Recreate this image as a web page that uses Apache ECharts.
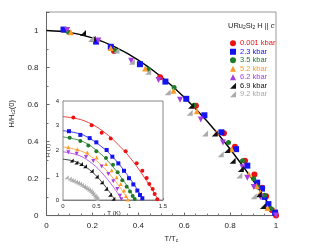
<!DOCTYPE html>
<html><head><meta charset="utf-8">
<script src="https://cdn.jsdelivr.net/npm/echarts@6/dist/echarts.min.js"></script>
<style>html,body{margin:0;padding:0;background:#fff}#c{width:321px;height:248px}</style>
</head><body><div id="c"></div>
<script>
// ---- legend / series names ----
var names = ['0.001 kbar','2.3 kbar','3.5 kbar','5.2 kbar','6.2 kbar','6.9 kbar','9.2 kbar'];
// ---- main plot: [T/Tc, H/Hc2(0)] ----
var mainRed = [[0.294,0.889],[0.495,0.747],[0.651,0.594],[0.773,0.445],[0.821,0.372],[0.865,0.297],[0.906,0.222],[0.94,0.151],[0.957,0.105],[0.982,0.03],[1.0,0.0]];
var mainBlue = [[0.074,1.005],[0.216,0.94],[0.28,0.912],[0.407,0.818],[0.518,0.724],[0.609,0.631],[0.688,0.542],[0.762,0.45],[0.826,0.359],[0.875,0.27],[0.918,0.178],[0.939,0.146],[0.95,0.101],[0.967,0.062],[0.996,0.016]];
var mainGreen = [[0.096,0.99],[0.3,0.89],[0.444,0.791],[0.556,0.692],[0.643,0.596],[0.793,0.395],[0.854,0.297],[0.903,0.199],[0.92,0.155],[0.95,0.11],[0.977,0.039]];
var mainOrange = [[0.106,0.99],[0.28,0.905],[0.43,0.795],[0.553,0.675],[0.655,0.564],[0.74,0.448],[0.807,0.359],[0.882,0.222],[0.915,0.16],[0.932,0.126],[0.963,0.041]];
var mainPurple = [[0.09,1.003],[0.226,0.946],[0.369,0.836],[0.488,0.732],[0.582,0.626],[0.672,0.519],[0.769,0.395],[0.854,0.261],[0.875,0.204],[0.903,0.155],[0.932,0.101],[1.0,0.0]];
var mainBlack = [[0.159,0.987],[0.201,0.955],[0.63,0.594],[0.733,0.443],[0.787,0.354],[0.811,0.297],[0.847,0.252],[0.925,0.116],[0.943,0.052]];
var mainGray = [[0.194,0.955],[0.305,0.892],[0.372,0.831],[0.443,0.777],[0.528,0.667],[0.624,0.555],[0.691,0.443],[0.759,0.332],[0.84,0.217],[0.903,0.105]];
var mainCurve = [[0,1],[0.1,0.99],[0.2,0.96],[0.3,0.91],[0.4,0.84],[0.5,0.75],[0.6,0.64],[0.7,0.51],[0.8,0.36],[0.9,0.19],[1,0]];
// ---- inset: [T (K), H (T)] ----
var inRed = [[0.155,3.33],[0.43,3.02],[0.58,2.72],[0.715,2.48],[0.94,1.97],[1.105,1.48],[1.19,1.18],[1.255,0.89],[1.295,0.65],[1.345,0.44],[1.375,0.24],[1.415,0.03]];
var inBlue = [[0.09,2.78],[0.26,2.63],[0.4,2.5],[0.5,2.33],[0.655,2.02],[0.74,1.75],[0.83,1.48],[0.915,1.18],[0.99,0.88],[1.055,0.63],[1.115,0.38],[1.155,0.2],[1.19,0.07]];
var inGreen = [[0.1,2.52],[0.26,2.38],[0.38,2.2],[0.5,1.97],[0.645,1.7],[0.75,1.42],[0.82,1.12],[0.89,0.8],[0.955,0.54],[1.005,0.34],[1.045,0.16],[1.075,0.04]];
var inOrange = [[0.08,2.13],[0.215,2.05],[0.365,1.92],[0.505,1.72],[0.645,1.45],[0.73,1.2],[0.805,0.92],[0.865,0.65],[0.915,0.38],[0.945,0.16],[0.97,0.02]];
var inPurple = [[0.08,1.93],[0.205,1.87],[0.345,1.74],[0.455,1.58],[0.58,1.35],[0.68,1.05],[0.755,0.76],[0.815,0.44],[0.855,0.17],[0.875,0.03]];
var inBlack = [[0.13,1.6],[0.2,1.52],[0.27,1.45],[0.33,1.36],[0.43,1.18],[0.505,0.95],[0.58,0.72],[0.645,0.45],[0.705,0.21],[0.755,0.05]];
var inGray = [[0.055,0.92],[0.1,0.87],[0.13,0.82],[0.16,0.79],[0.195,0.75],[0.225,0.71],[0.255,0.67],[0.285,0.62],[0.315,0.57],[0.34,0.52],[0.365,0.47],[0.39,0.42],[0.415,0.37],[0.435,0.31],[0.455,0.25],[0.475,0.18],[0.49,0.13],[0.505,0.08],[0.515,0.04]];
// inset fit curves
var fitRed = [[0,3.37],[0.3,3.22],[0.6,2.78],[0.9,2.04],[1.1,1.38],[1.25,0.79],[1.35,0.37],[1.43,0]];
var fitBlue = [[0,2.8],[0.3,2.63],[0.6,2.11],[0.8,1.58],[0.95,1.07],[1.05,0.69],[1.15,0.27],[1.21,0]];
var fitGreen = [[0,2.55],[0.3,2.36],[0.55,1.9],[0.75,1.34],[0.9,0.81],[1.0,0.4],[1.09,0]];
var fitOrange = [[0,2.15],[0.3,1.95],[0.5,1.59],[0.7,1.05],[0.85,0.53],[0.98,0]];
var fitPurple = [[0,1.95],[0.25,1.79],[0.45,1.45],[0.6,1.05],[0.75,0.55],[0.885,0]];
var fitBlack = [[0,1.65],[0.2,1.54],[0.4,1.22],[0.55,0.83],[0.68,0.39],[0.78,0]];

var colors = ['#ee1111','#1414ee','#1f7a2a','#ff9a2a','#a63ce2','#111111','#aaaaaa'];
var rtri = 'path://M10,0 L10,10 L0,10 Z';
var syms = ['circle','rect','circle','triangle','triangle',rtri,rtri];
var rots = [0,0,0,0,180,0,0];
var sizes = [6,6,5,6,6,6,6];
var mainData = [mainRed,mainBlue,mainGreen,mainOrange,mainPurple,mainBlack,mainGray];
var inData = [inRed,inBlue,inGreen,inOrange,inPurple,inBlack,inGray];
var fits = [fitRed,fitBlue,fitGreen,fitOrange,fitPurple,fitBlack];

var FONT = 'Liberation Sans, Arial, sans-serif';
var series = [];
series.push({type:'line', xAxisIndex:0, yAxisIndex:0, data:mainCurve, smooth:0.3, symbol:'none',
  lineStyle:{color:'#000', width:1.4}, z:1, silent:true});
for (var i=0;i<7;i++){
  series.push({name:names[i], type:'scatter', xAxisIndex:0, yAxisIndex:0, data:mainData[i],
    symbol:syms[i], symbolRotate:rots[i], symbolSize:sizes[i], itemStyle:{color:colors[i], opacity:1}, z:3});
}
for (var j=0;j<6;j++){
  series.push({type:'line', xAxisIndex:1, yAxisIndex:1, data:fits[j], smooth:0.35, symbol:'none',
    lineStyle:{color:colors[j], width:0.8}, z:4, silent:true});
}
for (var k=0;k<7;k++){
  series.push({type:'scatter', xAxisIndex:1, yAxisIndex:1, data:inData[k],
    symbol:syms[k], symbolRotate:rots[k], symbolSize:k===6?4:4, itemStyle:{color:colors[k], opacity:1}, z:5});
}

var legendData = names.map(function(n,i){ return {name:n, textStyle:{color:colors[i]}}; });

var chart = echarts.init(document.getElementById('c'), null, {renderer:'canvas'});
chart.setOption({
  animation:false,
  backgroundColor:'#fff',
  textStyle:{fontFamily:FONT},
  title:{left:223, top:16, text:'URu{s|2}Si{s|2} H || {i|c}',
    textStyle:{fontSize:7.5, fontWeight:'normal', color:'#222', fontFamily:FONT,
      rich:{s:{fontSize:5, verticalAlign:'bottom', padding:[4,0,0,0], color:'#222', fontFamily:FONT},
            i:{fontSize:7.5, fontStyle:'italic', color:'#222', fontFamily:FONT}}}},
  legend:{orient:'vertical', left:225, top:34, itemWidth:6, itemHeight:6, itemGap:0,
    data:legendData, selectedMode:false,
    textStyle:{fontSize:7.5, lineHeight:8.5, fontFamily:FONT, padding:[0,0,0,-1]}},
  grid:[
    {left:41, top:12, width:235, height:207, show:true, borderColor:'#999', borderWidth:1, backgroundColor:'transparent'},
    {left:63, top:101, width:100, height:99, show:true, borderColor:'#888', borderWidth:1, backgroundColor:'#fff', z:3}
  ],
  xAxis:[
    {gridIndex:0, type:'value', min:0, max:1, interval:0.2,
      axisLine:{lineStyle:{color:'#666', width:1}}, splitLine:{show:false},
      axisTick:{inside:true, length:3, lineStyle:{color:'#666'}},
      minorTick:{show:true, splitNumber:4, length:2, lineStyle:{color:'#777'}},
      axisLabel:{fontSize:8, color:'#222', margin:6, fontFamily:FONT},
      name:'T/T{s|c}', nameLocation:'middle', nameGap:15,
      nameTextStyle:{fontSize:7.5, color:'#222', padding:[0,0,0,20], fontFamily:FONT,
        rich:{s:{fontSize:5, verticalAlign:'bottom', padding:[4,0,0,0], color:'#222'}}}},
    {gridIndex:1, type:'value', min:0, max:1.5, interval:0.5,
      axisLine:{lineStyle:{color:'#777', width:1}}, splitLine:{show:false},
      axisTick:{inside:true, length:2, lineStyle:{color:'#777'}},
      minorTick:{show:true, splitNumber:5, length:1.5, lineStyle:{color:'#888'}},
      axisLabel:{fontSize:6, color:'#222', margin:3, fontFamily:FONT},
      name:'T (K)', nameLocation:'middle', nameGap:10,
      nameTextStyle:{fontSize:6, color:'#222', padding:[0,0,0,2], fontFamily:FONT}}
  ],
  yAxis:[
    {gridIndex:0, type:'value', min:0, max:1.1, interval:0.2,
      axisLine:{lineStyle:{color:'#666', width:1}}, splitLine:{show:false},
      axisTick:{inside:true, length:3, lineStyle:{color:'#666'}},
      minorTick:{show:true, splitNumber:2, length:2, lineStyle:{color:'#777'}},
      axisLabel:{fontSize:8, color:'#222', margin:8, showMaxLabel:false, fontFamily:FONT},
      name:'H/H{s|c2}(0)', nameLocation:'middle', nameGap:28, nameRotate:90,
      nameTextStyle:{fontSize:7.5, color:'#222', fontFamily:FONT,
        rich:{s:{fontSize:5, verticalAlign:'bottom', padding:[4,0,0,0], color:'#222'}}}},
    {gridIndex:1, type:'value', min:0, max:4, interval:1,
      axisLine:{lineStyle:{color:'#777', width:1}}, splitLine:{show:false},
      axisTick:{inside:true, length:2, lineStyle:{color:'#777'}},
      minorTick:{show:false},
      axisLabel:{fontSize:6, color:'#222', margin:4, fontFamily:FONT},
      name:'H (T)', nameLocation:'middle', nameGap:11, nameRotate:90,
      nameTextStyle:{fontSize:6, color:'#222', fontFamily:FONT}}
  ],
  series:series
});
</script>
</body></html>
